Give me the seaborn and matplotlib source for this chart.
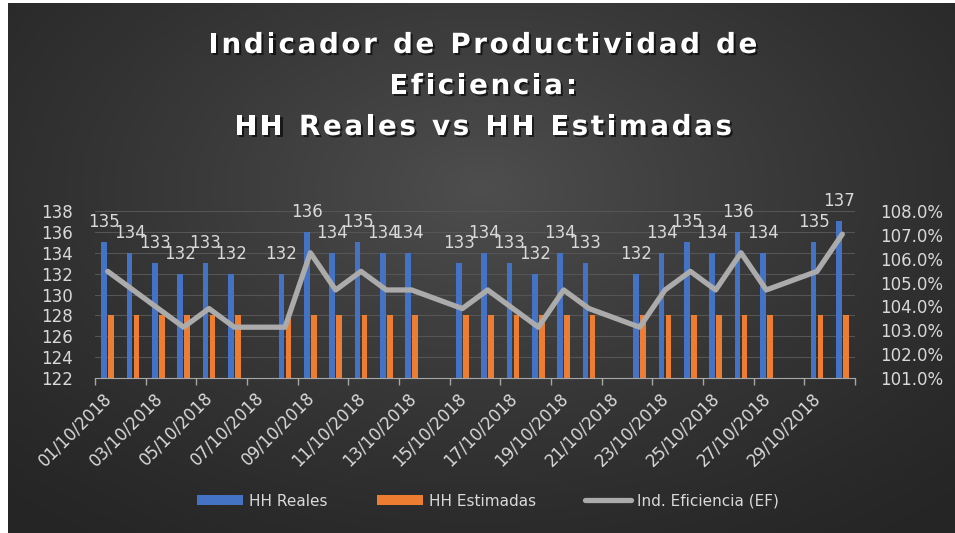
import numpy as np
import pandas as pd
import matplotlib
matplotlib.use("Agg")
import matplotlib.pyplot as plt
import matplotlib.patheffects as pe
from matplotlib.patches import Patch
from matplotlib.lines import Line2D
from matplotlib.ticker import PercentFormatter
from matplotlib.transforms import ScaledTranslation
import seaborn as sns

# Datos (dias sin registro = None)
fechas = [f"{d:02d}/10/2018" for d in range(1, 31)]
hh_reales = [135, 134, 133, 132, 133, 132, None, 132, 136, 134,
             135, 134, 134, None, 133, 134, 133, 132, 134, 133,
             None, 132, 134, 135, 134, 136, 134, None, 135, 137]
hh_estimadas = [128, 128, 128, 128, 128, 128, None, 128, 128, 128,
                128, 128, 128, None, 128, 128, 128, 128, 128, 128,
                None, 128, 128, 128, 128, 128, 128, None, 128, 128]
eficiencia = [1.0547, 1.0469, 1.0391, 1.0313, 1.0391, 1.0313, None, 1.0313, 1.0625, 1.0469,
              1.0547, 1.0469, 1.0469, None, 1.0391, 1.0469, 1.0391, 1.0313, 1.0469, 1.0391,
              None, 1.0313, 1.0469, 1.0547, 1.0469, 1.0625, 1.0469, None, 1.0547, 1.0703]
titulo = ["Indicador de Productividad de", "Eficiencia:", "HH Reales vs HH Estimadas"]

BLUE = "#4472C4"
ORANGE = "#ED7D31"
GREY = "#ABABAB"
TXT = "#D9D9D9"

sns.set_style("dark")
plt.rcParams["font.family"] = ["DejaVu Sans"]

# tabla larga para seaborn
rows = []
for i, f in enumerate(fechas):
    if hh_reales[i] is not None:
        rows.append({"fecha": f, "serie": "HH Reales", "valor": hh_reales[i]})
    if hh_estimadas[i] is not None:
        rows.append({"fecha": f, "serie": "HH Estimadas", "valor": hh_estimadas[i]})
df = pd.DataFrame(rows)
df_ef = pd.DataFrame({"pos": range(len(fechas)), "ef": eficiencia}).dropna()

fig = plt.figure(figsize=(9.55, 5.33), dpi=100, facecolor="white")
W, H = 955, 533

# fondo con degradado radial
bg = fig.add_axes([8 / W, 0, 1 - 8 / W, 1 - 3 / H])
yy, xx = np.mgrid[0:1:300j, 0:1:500j]
r = np.sqrt(((xx - 0.5) / 0.75) ** 2 + ((yy - 0.35) / 0.85) ** 2)
shade = np.clip(1 - r, 0, 1)
lo, hi = np.array([0x25, 0x25, 0x25]) / 255, np.array([0x4e, 0x4e, 0x4e]) / 255
img = lo + (hi - lo) * shade[..., None] ** 1.3
bg.imshow(img, aspect="auto", extent=(0, 1, 1, 0))
bg.set_axis_off()

ax = fig.add_axes([95 / W, 1 - 378 / H, 760 / W, 167 / H])
ax.set_facecolor("none")
sns.barplot(data=df, x="fecha", y="valor", hue="serie", order=fechas,
            hue_order=["HH Reales", "HH Estimadas"], palette=[BLUE, ORANGE],
            width=0.55, gap=0.15, legend=False, ax=ax, zorder=2,
            linewidth=0, edgecolor="none", saturation=1)
ax.bar_label(ax.containers[0], padding=8, color=TXT, fontsize=12)

ax2 = ax.twinx()
sns.lineplot(data=df_ef, x="pos", y="ef", color=GREY, linewidth=3.8,
             sort=False, ax=ax2, zorder=3)

ax.set_ylim(122, 138)
ax.set_yticks(range(122, 139, 2))
ax2.set_ylim(1.01, 1.08)
ax2.set_yticks(np.arange(1.01, 1.0801, 0.01))
ax2.yaxis.set_major_formatter(PercentFormatter(1.0, decimals=1))
ax.set_xlim(-0.5, 29.5)

ax.tick_params(axis="x", colors="#A6A6A6", labelcolor=TXT, labelsize=12,
               length=5, width=1, direction="out", pad=6, bottom=True)
ax.tick_params(axis="y", labelcolor=TXT, labelsize=12, length=0, pad=16)
ax2.tick_params(axis="y", labelcolor=TXT, labelsize=12, length=0, pad=18)

ax.set_xticks(np.arange(-0.5, 30, 2))
ax.set_xticklabels(fechas[::2] + [""], rotation=45, ha="right", va="center",
                   rotation_mode="anchor")
shift = ScaledTranslation(14 / 100, -2 / 100, fig.dpi_scale_trans)
for lab in ax.get_xticklabels():
    lab.set_transform(lab.get_transform() + shift)

ax.grid(axis="y", color="#555555", linewidth=0.8)
ax.grid(axis="x", visible=False)
ax2.grid(False)
for s in list(ax.spines.values()) + list(ax2.spines.values()):
    s.set_visible(False)
ax.spines["bottom"].set_visible(True)
ax.spines["bottom"].set_color("#A6A6A6")
ax.set_xlabel("")
ax.set_ylabel("")
ax2.set_xlabel("")
ax2.set_ylabel("")

# titulo con espaciado entre letras
renderer = fig.canvas.get_renderer()
shadow = [pe.SimplePatchShadow(offset=(1.5, -1.5), shadow_rgbFace="black", alpha=0.6), pe.Normal()]
tsize = 20
tracking = 2.6
for linea, yc in zip(titulo, [45, 86, 127]):
    anchos = []
    for ch in linea:
        t = fig.text(0, 0, "n" if ch == " " else ch, fontsize=tsize, fontweight="bold")
        w = t.get_window_extent(renderer).width
        t.remove()
        anchos.append(w * (0.55 if ch == " " else 1.0))
    total = sum(anchos) + tracking * (len(linea) - 1)
    x = 483 - total / 2
    for ch, w in zip(linea, anchos):
        if ch != " ":
            fig.text(x / W, 1 - yc / H, ch, fontsize=tsize, fontweight="bold",
                     color="white", ha="left", va="center", path_effects=shadow)
        x += w + tracking

handles = [Patch(facecolor=BLUE, edgecolor="none"), Patch(facecolor=ORANGE, edgecolor="none"),
           Line2D([0], [0], color=GREY, linewidth=3.8)]
fig.legend(handles, ["HH Reales", "HH Estimadas", "Ind. Eficiencia (EF)"],
           loc="center", bbox_to_anchor=(488 / W, 1 - 501 / H), ncol=3,
           frameon=False, fontsize=11, labelcolor=TXT, handlelength=3.0,
           handleheight=0.6, handletextpad=0.4, columnspacing=3.2)

fig.savefig("out.png", dpi=100, facecolor="white")
